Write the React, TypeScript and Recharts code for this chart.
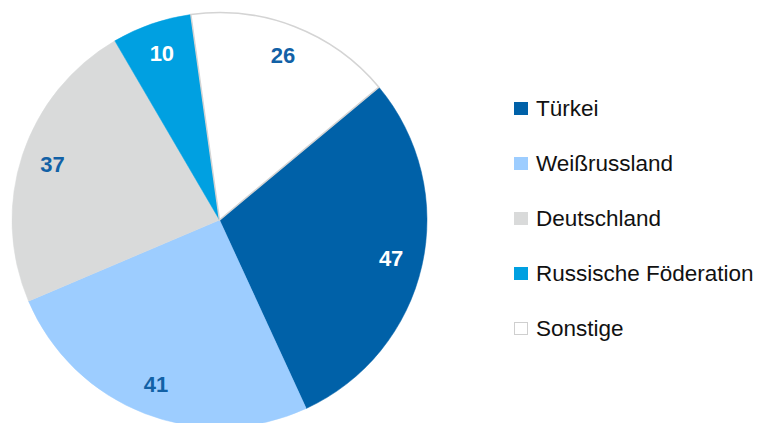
import { Cell, Pie, PieChart } from "recharts"

const categories = ["Türkei", "Weißrussland", "Deutschland", "Russische Föderation", "Sonstige"]
const values = [47, 41, 37, 10, 26]
const colors = ["#0061a8", "#9dcdff", "#d9dada", "#00a0e1", "#ffffff"]
const labelColors = ["#ffffff", "#1261a6", "#1261a6", "#ffffff", "#1261a6"]

const data = categories.map((name, i) => ({ name, value: values[i] }))

const RADIAN = Math.PI / 180
const FONT = "'Liberation Sans', Arial, sans-serif"

function renderLabel(props: any) {
  const { cx, cy, midAngle, outerRadius, index, value } = props
  const r = outerRadius * 0.848
  const x = cx + r * Math.cos(-midAngle * RADIAN)
  const y = cy + r * Math.sin(-midAngle * RADIAN)
  return (
    <text
      x={x}
      y={y}
      fill={labelColors[index]}
      textAnchor="middle"
      dominantBaseline="central"
      fontSize={22}
      fontWeight="bold"
      fontFamily={FONT}
    >
      {value}
    </text>
  )
}

function LegendBox() {
  return (
    <div
      style={{
        position: "absolute",
        left: 514,
        top: 81,
        fontFamily: FONT,
        fontSize: 22.5,
        color: "#111",
      }}
    >
      {categories.map((name, i) => (
        <div key={name} style={{ display: "flex", alignItems: "center", height: 55, whiteSpace: "nowrap" }}>
          <span
            style={{
              width: 14,
              height: 13,
              background: colors[i],
              border: i === 4 ? "1px solid #cfcfcf" : "none",
              boxSizing: "border-box",
              marginRight: 8,
              display: "inline-block",
            }}
          />
          <span>{name}</span>
        </div>
      ))}
    </div>
  )
}

export default function App() {
  return (
    <div style={{ position: "absolute", left: 0, top: 0, width: 757, height: 423, background: "#fff" }}>
      <PieChart width={757} height={423} margin={{ top: 0, right: 0, bottom: 0, left: 0 }}>
        <Pie
          data={data}
          dataKey="value"
          nameKey="name"
          cx={219.5}
          cy={220}
          outerRadius={207.5}
          startAngle={39.8}
          endAngle={-320.2}
          label={renderLabel}
          labelLine={false}
          isAnimationActive={false}
        >
          {data.map((d, i) => (
            <Cell
              key={d.name}
              fill={colors[i]}
              stroke={i === 4 ? "#d4d4d4" : colors[i]}
              strokeWidth={i === 4 ? 1.5 : 0.5}
            />
          ))}
        </Pie>
      </PieChart>
      <LegendBox />
    </div>
  )
}
